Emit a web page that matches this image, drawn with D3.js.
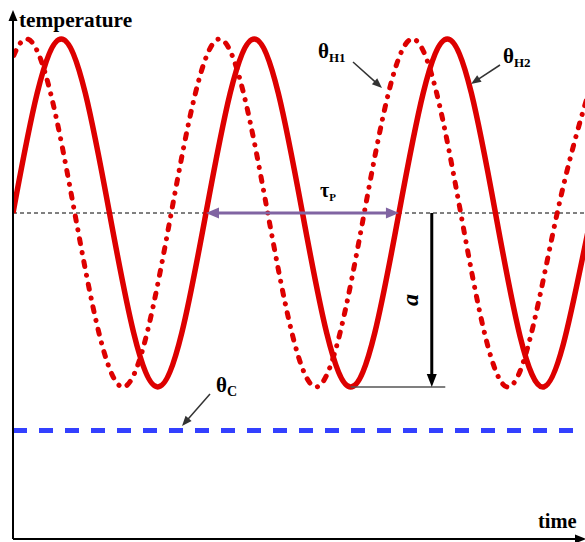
<!DOCTYPE html>
<html>
<head>
<meta charset="utf-8">
<script src="https://cdn.jsdelivr.net/npm/d3@7/dist/d3.min.js"></script>
<style>
  html, body { margin: 0; padding: 0; background: #fff; }
  svg { display: block; }
</style>
</head>
<body>
<svg id="chart" width="585" height="542"></svg>
<script>
// Key points (time in periods, normalised temperature) of the two hot-side waves
const h2Time = [0, 0.25, 0.5, 0.75, 1, 1.25, 1.5, 1.75, 2, 2.25, 2.5, 2.75, 3, 3.25];
const h2Temp = [0, 1, 0, -1, 0, 1, 0, -1, 0, 1, 0, -1, 0, 1];
const h1Time = [-0.18, 0.07, 0.32, 0.57, 0.82, 1.07, 1.32, 1.57, 1.82, 2.07, 2.32, 2.57, 2.82, 3.07];
const h1Temp = [0, 1, 0, -1, 0, 1, 0, -1, 0, 1, 0, -1, 0, 1];
// Cold-side constant temperature and mean level
const coldTemp = -1.25;
const meanTemp = 0;
// Period marker (from one rising crossing to the next) and amplitude marker
const periodSpan = [1, 2];
const ampTime = 2.17;
const ampSpan = [0, -1];
const ampBaseSpan = [1.75, 2.24];

const FONT = "'Liberation Serif', 'Times New Roman', Times, serif";
const svg = d3.select("#chart");
const W = 585, H = 542;
const originX = 13, baseY = 539, topY = 10;

const x = d3.scaleLinear().domain([0, 2.964]).range([originX, W]);
const y = d3.scaleLinear().domain([-1, 1]).range([387, 39]);

const red = "#dd0000";

svg.append("defs").append("clipPath").attr("id", "plot")
  .append("rect").attr("x", originX).attr("y", 0).attr("width", W - originX).attr("height", baseY);

const line = d3.line().x(d => x(d[0])).y(d => y(d[1])).curve(d3.curveNatural);

const g = svg.append("g").attr("clip-path", "url(#plot)");

// mean level
g.append("line")
  .attr("x1", originX).attr("x2", W)
  .attr("y1", y(meanTemp)).attr("y2", y(meanTemp))
  .attr("stroke", "#000").attr("stroke-width", 1).attr("stroke-dasharray", "4,3");

// cold side
g.append("line")
  .attr("x1", originX).attr("x2", W)
  .attr("y1", y(coldTemp)).attr("y2", y(coldTemp))
  .attr("stroke", "#3340ff").attr("stroke-width", 5).attr("stroke-dasharray", "14,12");

// theta_H1 (dash-dot) and theta_H2 (solid)
g.append("path")
  .attr("d", line(h1Time.map((t, i) => [t, h1Temp[i]])))
  .attr("fill", "none").attr("stroke", red).attr("stroke-width", 5)
  .attr("stroke-linecap", "round")
  .attr("stroke-dasharray", "5,9,0.1,9");
g.append("path")
  .attr("d", line(h2Time.map((t, i) => [t, h2Temp[i]])))
  .attr("fill", "none").attr("stroke", red).attr("stroke-width", 5.5);

// arrowhead helper: filled triangle with its tip at (x2,y2)
function arrowHead(sel, x1, y1, x2, y2, len, half, color) {
  const a = Math.atan2(y2 - y1, x2 - x1);
  const bx = x2 - len * Math.cos(a), by = y2 - len * Math.sin(a);
  const px = -Math.sin(a) * half, py = Math.cos(a) * half;
  sel.append("path")
    .attr("d", `M${x2},${y2}L${bx + px},${by + py}L${bx - px},${by - py}Z`)
    .attr("fill", color);
}
function arrow(x1, y1, x2, y2, opts) {
  const a = Math.atan2(y2 - y1, x2 - x1);
  svg.append("line")
    .attr("x1", x1).attr("y1", y1)
    .attr("x2", x2 - opts.len * 0.8 * Math.cos(a)).attr("y2", y2 - opts.len * 0.8 * Math.sin(a))
    .attr("stroke", opts.color).attr("stroke-width", opts.width);
  arrowHead(svg, x1, y1, x2, y2, opts.len, opts.half, opts.color);
}

// axes
arrow(originX, baseY, originX, topY, { len: 11, half: 4.5, color: "#000", width: 2 });
arrow(originX, baseY, W + 1, baseY, { len: 11, half: 4.5, color: "#000", width: 2 });

// period marker (double arrow)
{
  const x1 = x(periodSpan[0]), x2 = x(periodSpan[1]), yy = y(meanTemp);
  const opts = { len: 13, half: 5.5, color: "#8064a2", width: 3 };
  svg.append("line").attr("x1", x1 + 10).attr("x2", x2 - 10).attr("y1", yy).attr("y2", yy)
    .attr("stroke", opts.color).attr("stroke-width", opts.width);
  arrowHead(svg, x2, yy, x1, yy, opts.len, opts.half, opts.color);
  arrowHead(svg, x1, yy, x2, yy, opts.len, opts.half, opts.color);
}

// amplitude marker
svg.append("line")
  .attr("x1", x(ampBaseSpan[0])).attr("x2", x(ampBaseSpan[1]))
  .attr("y1", y(ampSpan[1])).attr("y2", y(ampSpan[1]))
  .attr("stroke", "#555").attr("stroke-width", 1.5);
arrow(x(ampTime), y(ampSpan[0]), x(ampTime), y(ampSpan[1]), { len: 13, half: 5, color: "#000", width: 3 });

// label pointers
const ptr = { len: 10, half: 4, color: "#333", width: 1.5 };
arrow(353, 62, 382, 88, ptr);
arrow(500, 65, 471, 84, ptr);
arrow(210, 394, 182, 426, ptr);

// text
function sym(xp, yp, main, sub, size, subSize) {
  const t = svg.append("text").attr("x", xp).attr("y", yp)
    .attr("font-family", FONT)
    .attr("font-weight", "bold").attr("font-size", size).attr("fill", "#000");
  t.append("tspan").text(main);
  t.append("tspan").attr("dy", 4).attr("font-size", subSize).text(sub);
}
svg.append("text").attr("x", 19).attr("y", 27).attr("font-family", FONT)
  .attr("font-weight", "bold").attr("font-size", 21.3).text("temperature");
svg.append("text").attr("x", 538).attr("y", 528).attr("font-family", FONT)
  .attr("font-weight", "bold").attr("font-size", 20.5).text("time");

sym(318, 58, "θ", "H1", 21, 13);
sym(503, 63, "θ", "H2", 21, 13);
sym(216, 392, "θ", "C", 21, 14);
sym(320, 197, "τ", "P", 20, 11);

svg.append("text")
  .attr("transform", `translate(418,${(y(ampSpan[0]) + y(ampSpan[1])) / 2}) rotate(-90)`)
  .attr("text-anchor", "middle").attr("font-family", FONT)
  .attr("font-style", "italic").attr("font-weight", "bold").attr("font-size", 24)
  .text("a");
</script>
</body>
</html>
